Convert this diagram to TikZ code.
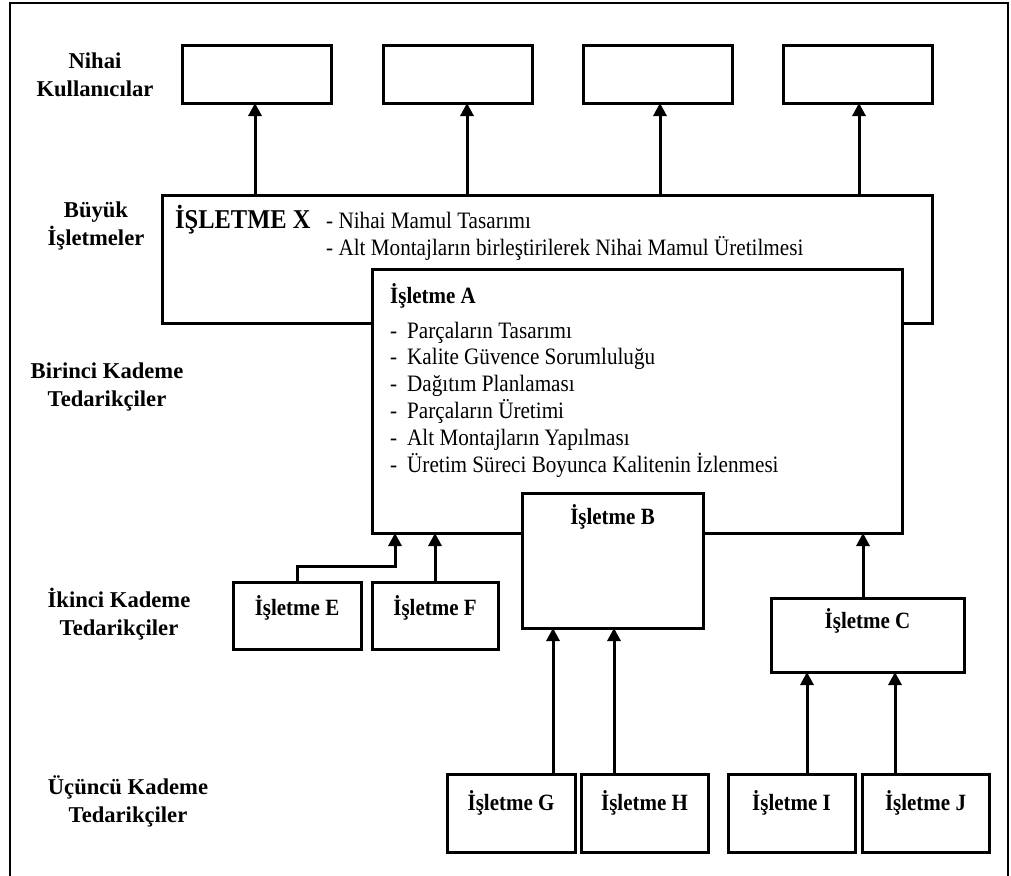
\documentclass[tikz,border=0pt]{standalone}
\usepackage{fontspec}
\setmainfont{Liberation Serif}
\newfontfamily\nf{Liberation Serif}[FakeStretch=0.9]
\usetikzlibrary{arrows.meta}
\newcommand\mkbox[5]{\node[box, minimum width={(#4-#2)*1bp}, minimum height={(#5-#3)*1bp}] (#1) at ({(#2+#4)/2},{(#3+#5)/2}) {};}
\newcommand\dsh{\makebox[17bp][l]{-}}
\begin{document}
\begin{tikzpicture}[x=1bp,y=-1bp,
 box/.style={draw, line width=3bp, fill=white, inner sep=0pt, outer sep=0pt},
 arr/.style={line width=3bp, -{Triangle[width=13bp,length=13bp]}},
 side/.style={font=\fontsize{22.7}{28}\selectfont\bfseries, align=center, inner sep=0pt},
 intx/.style={font=\nf\fontsize{23.4}{27}\selectfont\bfseries, anchor=base, inner sep=0pt},
 item/.style={font=\nf\fontsize{23.6}{27}\selectfont, anchor=base west, inner sep=0pt},
]
\useasboundingbox (0,0) rectangle (1011,876);
\draw[line width=2bp] (10,876) -- (10,3) -- (1008,3) -- (1008,876);

% side labels
\node[side] (L1) at (95,75) {Nihai\\Kullanıcılar};
\node[side] (L2) at (96,226) {Büyük\\İşletmeler};
\node[side] (L3) at (107,387) {Birinci Kademe\\Tedarikçiler};
\node[side] (L4) at (119,614) {İkinci Kademe\\Tedarikçiler};
\node[side] (L5) at (128,801) {Üçüncü Kademe\\Tedarikçiler};

% boxes
\mkbox{U1}{182}{45}{331}{103}
\mkbox{U2}{383}{45}{532}{103}
\mkbox{U3}{583}{45}{732}{103}
\mkbox{U4}{783}{45}{932}{103}
\mkbox{X}{162}{195}{932}{323}
\mkbox{A}{372}{269}{902}{533}
\mkbox{B}{522}{493}{703}{628}
\mkbox{E}{233}{582}{361}{649}
\mkbox{F}{372}{582}{498}{649}
\mkbox{C}{771}{598}{964}{672}
\mkbox{G}{447}{774}{575}{852}
\mkbox{H}{581}{774}{708}{852}
\mkbox{I}{728}{774}{855}{852}
\mkbox{J}{862}{774}{989}{852}

% texts in boxes
\node[font=\nf\fontsize{27.3}{30}\selectfont\bfseries, anchor=base west, inner sep=0pt] (Xt) at (175,228) {İŞLETME X};
\node[item] (x1) at (326,228) {- Nihai Mamul Tasarımı};
\node[item] (x2) at (326,255) {- Alt Montajların birleştirilerek Nihai Mamul Üretilmesi};
\node[intx, anchor=base west] (At) at (390,303) {İşletme A};
\node[item] (a1) at (390,338) {\dsh Parçaların Tasarımı};
\node[item] (a2) at (390,364.8) {\dsh Kalite Güvence Sorumluluğu};
\node[item] (a3) at (390,391.6) {\dsh Dağıtım Planlaması};
\node[item] (a4) at (390,418.4) {\dsh Parçaların Üretimi};
\node[item] (a5) at (390,445.2) {\dsh Alt Montajların Yapılması};
\node[item] (a6) at (390,472) {\dsh Üretim Süreci Boyunca Kalitenin İzlenmesi};
\node[intx] (Bt) at (612.5,524) {İşletme B};
\node[intx] (Et) at (297,615) {İşletme E};
\node[intx] (Ft) at (435,615) {İşletme F};
\node[intx] (Ct) at (867.5,628) {İşletme C};
\node[intx] (Gt) at (511,810) {İşletme G};
\node[intx] (Ht) at (644.5,810) {İşletme H};
\node[intx] (It) at (791.5,810) {İşletme I};
\node[intx] (Jt) at (925.5,810) {İşletme J};

% connector columns
\coordinate (c1) at (255,0);
\coordinate (c2) at (467,0);
\coordinate (c3) at (660,0);
\coordinate (c4) at (859,0);
\coordinate (ek) at (395,566);
\coordinate (cg) at (553,0);
\coordinate (ch) at (614,0);
\coordinate (ci) at (807,0);
\coordinate (cj) at (895,0);
\coordinate (cc) at (863,0);

% connectors
\draw[arr] (X.north -| c1) -- (U1.south -| c1);
\draw[arr] (X.north -| c2) -- (U2.south -| c2);
\draw[arr] (X.north -| c3) -- (U3.south -| c3);
\draw[arr] (X.north -| c4) -- (U4.south -| c4);
\draw[arr] (E.north) |- (ek) -- (A.south -| ek);
\draw[arr] (F.north) -- (A.south -| F.north);
\draw[arr] (G.north -| cg) -- (B.south -| cg);
\draw[arr] (H.north -| ch) -- (B.south -| ch);
\draw[arr] (I.north -| ci) -- (C.south -| ci);
\draw[arr] (J.north -| cj) -- (C.south -| cj);
\draw[arr] (C.north -| cc) -- (A.south -| cc);
\end{tikzpicture}
\end{document}
